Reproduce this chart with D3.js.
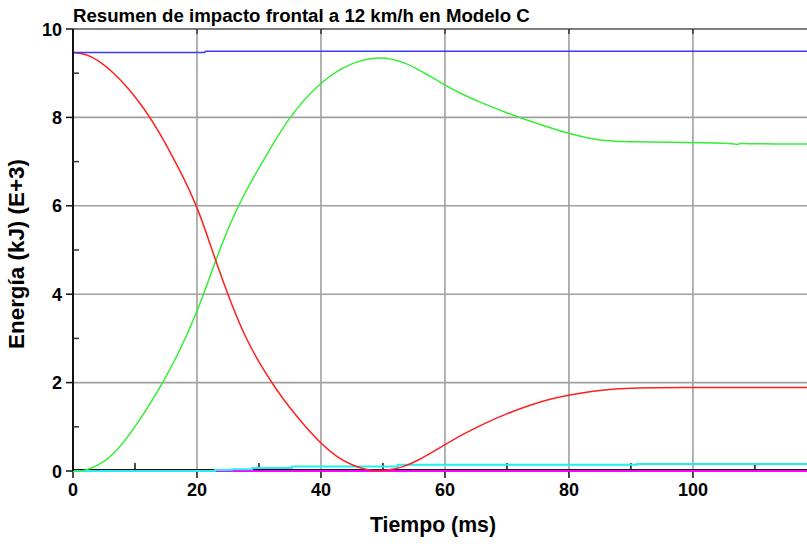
<!DOCTYPE html>
<html><head><meta charset="utf-8">
<script src="https://cdn.jsdelivr.net/npm/d3@7"></script>
<style>
html,body{margin:0;padding:0;background:#fff;}
svg{display:block;font-family:"Liberation Sans",Arial,sans-serif;}
</style></head>
<body>
<svg id="chart" width="807" height="544"></svg>
<script>
const title = "Resumen de impacto frontal a 12 km/h en Modelo C";
const xLabel = "Tiempo (ms)";
const yLabel = "Energía (kJ) (E+3)";
const xTicks = [0, 20, 40, 60, 80, 100];
const xMinorTicks = [10, 30, 50, 70, 90, 110];
const yTicks = [0, 2, 4, 6, 8, 10];
const yMinorTicks = [1, 3, 5, 7, 9];

const blueT = [0, 21.2, 21.4, 118.4];
const blueV = [9.47, 9.47, 9.495, 9.495];

const redT = [0, 2, 4, 6.5, 9, 11.5, 14, 16.5, 19, 20.5, 22.6, 24.8, 27.5, 30, 32.5, 35, 37.5, 40, 42.5, 45, 47, 49, 51, 53, 55.5, 59.7, 63, 66.7, 70, 73.7, 77, 80, 84, 87.5, 91, 95, 118.4];
const redV = [9.47, 9.44, 9.3, 9.02, 8.65, 8.2, 7.65, 7.0, 6.3, 5.8, 4.93, 4.05, 3.1, 2.45, 1.9, 1.42, 1.0, 0.62, 0.32, 0.13, 0.04, 0.0, 0.02, 0.08, 0.22, 0.57, 0.84, 1.1, 1.3, 1.49, 1.63, 1.72, 1.81, 1.86, 1.88, 1.89, 1.89];

const greenT = [0, 1.9, 4, 6.45, 9.7, 12, 14.5, 17, 19.9, 22.6, 25, 27.5, 30.2, 34.7, 39.8, 44.7, 49.5, 53.8, 57, 60, 62.4, 66, 70, 75, 80, 84, 87.5, 106.8, 107.1, 107.6, 108.3, 118.4];
const greenV = [0, 0, 0.12, 0.34, 0.93, 1.42, 2.0, 2.65, 3.55, 4.6, 5.5, 6.25, 6.9, 8.0, 8.8, 9.24, 9.4, 9.24, 8.98, 8.73, 8.55, 8.32, 8.1, 7.85, 7.63, 7.5, 7.44, 7.43, 7.37, 7.42, 7.40, 7.40];

const cyanT = [0, 22.9, 25.6, 28.9, 35.3, 52.4, 91, 118.4];
const cyanV = [0, 0.02, 0.04, 0.07, 0.1, 0.14, 0.16, 0.16];

const magentaT = [0, 118.4];
const magentaV = [0, 0];

const svg = d3.select("#chart");
const x = d3.scaleLinear().domain([0, 118.4]).range([73, 807]);
const y = d3.scaleLinear().domain([0, 10]).range([471, 29]);

// grid
const grid = svg.append("g");
grid.selectAll("line.v").data(xTicks.filter(d => d > 0)).join("line")
  .attr("x1", d => x(d)).attr("x2", d => x(d)).attr("y1", y(10)).attr("y2", y(0))
  .attr("stroke", "#a0a0a0").attr("stroke-width", 1.6);
grid.selectAll("line.h").data(yTicks.filter(d => d > 0 && d < 10)).join("line")
  .attr("x1", x(0)).attr("x2", 807).attr("y1", d => y(d)).attr("y2", d => y(d))
  .attr("stroke", "#a0a0a0").attr("stroke-width", 1.6);

// top border + ticks
const ax = svg.append("g");
ax.append("line").attr("x1", x(0)).attr("x2", 807).attr("y1", y(10)).attr("y2", y(10)).attr("stroke", "#555").attr("stroke-width", 1.6);
ax.selectAll("line.tt").data(xTicks.filter(d => d > 0)).join("line")
  .attr("x1", d => x(d)).attr("x2", d => x(d)).attr("y1", y(10)).attr("y2", y(10) + 5).attr("stroke", "#333").attr("stroke-width", 1.5);

const line = d3.line().x(d => x(d[0])).y(d => y(d[1]));
function draw(T, V, color, curve, w) {
  svg.append("path").datum(T.map((t, i) => [t, V[i]]))
    .attr("d", line.curve(curve)).attr("fill", "none")
    .attr("stroke", color).attr("stroke-width", w);
}

// bottom axis
const xAxisG = svg.append("g").attr("transform", `translate(0,${y(0) - 1})`);
xAxisG.append("line").attr("x1", x(0)).attr("x2", 807).attr("stroke", "#111").attr("stroke-width", 1.8);
xAxisG.selectAll("line.maj").data(xTicks).join("line")
  .attr("x1", d => x(d)).attr("x2", d => x(d)).attr("y1", 0).attr("y2", 8).attr("stroke", "#111").attr("stroke-width", 1.5);
xAxisG.selectAll("line.min").data(xMinorTicks).join("line")
  .attr("x1", d => x(d)).attr("x2", d => x(d)).attr("y1", 0).attr("y2", -7).attr("stroke", "#111").attr("stroke-width", 1.5);
xAxisG.selectAll("text").data(xTicks).join("text")
  .attr("x", d => x(d)).attr("y", 26).attr("text-anchor", "middle")
  .attr("font-size", 18).attr("font-weight", "bold").attr("fill", "#000").text(d => d);

draw(magentaT, magentaV, "#ff00ff", d3.curveLinear, 2);
draw(cyanT, cyanV, "#22f0f0", d3.curveStepAfter, 2);
draw(greenT, greenV, "#33ee33", d3.curveBasis, 1.5);
draw(redT, redV, "#ff2020", d3.curveBasis, 1.5);
draw(blueT, blueV, "#3a3aff", d3.curveLinear, 1.6);

// left axis
const yAxisG = svg.append("g").attr("transform", `translate(${x(0)},0)`);
yAxisG.append("line").attr("y1", y(10)).attr("y2", y(0)).attr("stroke", "#111").attr("stroke-width", 2);
yAxisG.selectAll("line.maj").data(yTicks).join("line")
  .attr("x1", -7).attr("x2", 0).attr("y1", d => y(d)).attr("y2", d => y(d)).attr("stroke", "#111").attr("stroke-width", 1.5);
yAxisG.selectAll("line.min").data(yMinorTicks).join("line")
  .attr("x1", 0).attr("x2", 6).attr("y1", d => y(d)).attr("y2", d => y(d)).attr("stroke", "#333").attr("stroke-width", 1.5);
yAxisG.selectAll("text").data(yTicks).join("text")
  .attr("x", -11).attr("y", d => y(d) + 6.5).attr("text-anchor", "end")
  .attr("font-size", 18).attr("font-weight", "bold").attr("fill", "#000").text(d => d);

function fit(sel, target) {
  const fs = +sel.attr("font-size");
  const w = sel.node().getComputedTextLength();
  if (w > 0) sel.attr("font-size", (fs * target / w).toFixed(2));
}
const t1 = svg.append("text").attr("x", 73).attr("y", 22).attr("font-size", 18).attr("font-weight", "bold").attr("fill", "#000").text(title);
fit(t1, 457);
const t2 = svg.append("text").attr("x", 433).attr("y", 532).attr("text-anchor", "middle").attr("font-size", 18).attr("font-weight", "bold").attr("fill", "#000").text(xLabel);
fit(t2, 126);
const t3 = svg.append("text").attr("transform", "translate(24,254) rotate(-90)").attr("text-anchor", "middle").attr("font-size", 18).attr("font-weight", "bold").attr("fill", "#000").text(yLabel);
fit(t3, 190);
</script>
</body></html>
